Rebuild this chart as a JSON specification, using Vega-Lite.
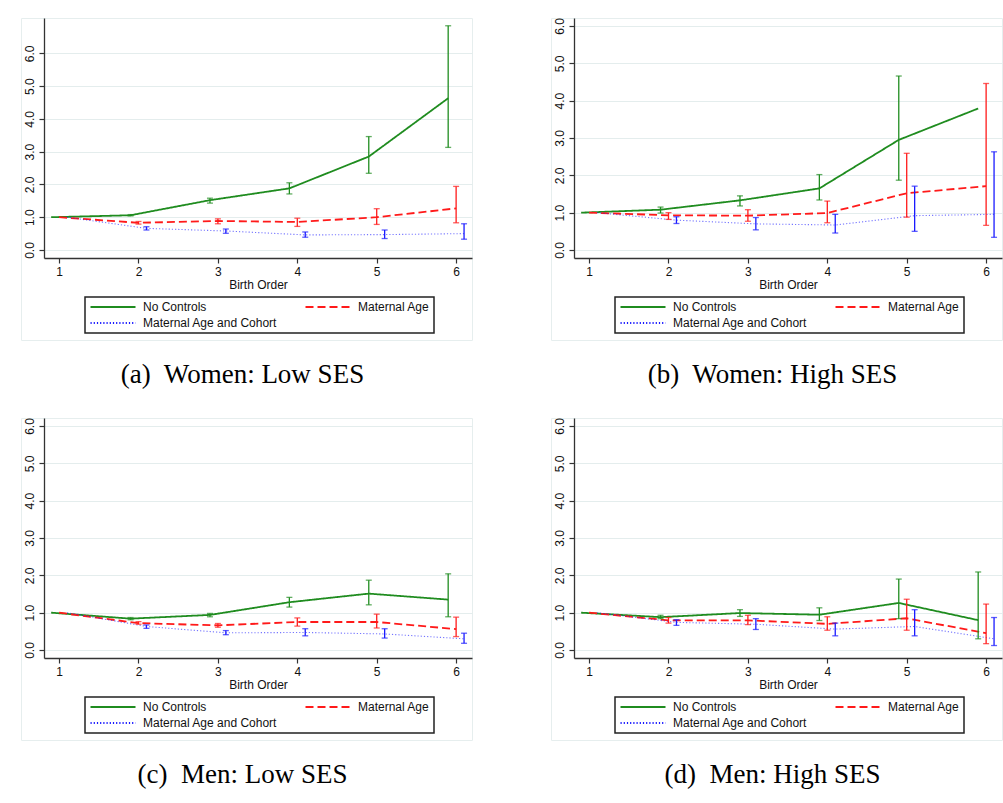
{
  "$schema": "https://vega.github.io/schema/vega-lite/v6.json",
  "padding": {"left": 20, "top": 17, "right": 2, "bottom": 2},
  "background": "white",
  "datasets": {
    "womenLow": [
      {"pos": 0.9, "series": "No Controls", "est": 1.0},
      {"pos": 1.9, "series": "No Controls", "est": 1.06, "lo": 1.04, "hi": 1.08},
      {"pos": 2.9, "series": "No Controls", "est": 1.52, "lo": 1.43, "hi": 1.58},
      {"pos": 3.9, "series": "No Controls", "est": 1.88, "lo": 1.71, "hi": 2.05},
      {"pos": 4.9, "series": "No Controls", "est": 2.85, "lo": 2.34, "hi": 3.46},
      {"pos": 5.9, "series": "No Controls", "est": 4.63, "lo": 3.13, "hi": 6.84},
      {"pos": 1, "series": "Maternal Age", "est": 1.0},
      {"pos": 2, "series": "Maternal Age", "est": 0.83, "lo": 0.79, "hi": 0.87},
      {"pos": 3, "series": "Maternal Age", "est": 0.885, "lo": 0.8, "hi": 0.95},
      {"pos": 4, "series": "Maternal Age", "est": 0.855, "lo": 0.72, "hi": 0.97},
      {"pos": 5, "series": "Maternal Age", "est": 1.0, "lo": 0.78, "hi": 1.26},
      {"pos": 6, "series": "Maternal Age", "est": 1.27, "lo": 0.83, "hi": 1.94},
      {"pos": 1.1, "series": "Maternal Age and Cohort", "est": 1.0},
      {"pos": 2.1, "series": "Maternal Age and Cohort", "est": 0.66, "lo": 0.61, "hi": 0.71},
      {"pos": 3.1, "series": "Maternal Age and Cohort", "est": 0.58, "lo": 0.51, "hi": 0.64},
      {"pos": 4.1, "series": "Maternal Age and Cohort", "est": 0.46, "lo": 0.39, "hi": 0.55},
      {"pos": 5.1, "series": "Maternal Age and Cohort", "est": 0.47, "lo": 0.35, "hi": 0.61},
      {"pos": 6.1, "series": "Maternal Age and Cohort", "est": 0.5, "lo": 0.33, "hi": 0.8}
    ],
    "womenHigh": [
      {"pos": 0.9, "series": "No Controls", "est": 1.0},
      {"pos": 1.9, "series": "No Controls", "est": 1.08, "lo": 0.99, "hi": 1.15},
      {"pos": 2.9, "series": "No Controls", "est": 1.33, "lo": 1.18, "hi": 1.45},
      {"pos": 3.9, "series": "No Controls", "est": 1.65, "lo": 1.34, "hi": 2.02},
      {"pos": 4.9, "series": "No Controls", "est": 2.95, "lo": 1.87, "hi": 4.66},
      {"pos": 5.9, "series": "No Controls", "est": 3.79},
      {"pos": 1, "series": "Maternal Age", "est": 1.0},
      {"pos": 2, "series": "Maternal Age", "est": 0.93, "lo": 0.82, "hi": 1.0},
      {"pos": 3, "series": "Maternal Age", "est": 0.92, "lo": 0.77, "hi": 1.08},
      {"pos": 4, "series": "Maternal Age", "est": 0.99, "lo": 0.73, "hi": 1.31},
      {"pos": 5, "series": "Maternal Age", "est": 1.52, "lo": 0.88, "hi": 2.59},
      {"pos": 6, "series": "Maternal Age", "est": 1.71, "lo": 0.66, "hi": 4.46},
      {"pos": 1.1, "series": "Maternal Age and Cohort", "est": 1.0},
      {"pos": 2.1, "series": "Maternal Age and Cohort", "est": 0.8, "lo": 0.71, "hi": 0.89},
      {"pos": 3.1, "series": "Maternal Age and Cohort", "est": 0.7, "lo": 0.54, "hi": 0.87},
      {"pos": 4.1, "series": "Maternal Age and Cohort", "est": 0.67, "lo": 0.455, "hi": 0.955},
      {"pos": 5.1, "series": "Maternal Age and Cohort", "est": 0.92, "lo": 0.5, "hi": 1.71},
      {"pos": 6.1, "series": "Maternal Age and Cohort", "est": 0.955, "lo": 0.34, "hi": 2.63}
    ],
    "menLow": [
      {"pos": 0.9, "series": "No Controls", "est": 1.0},
      {"pos": 1.9, "series": "No Controls", "est": 0.84, "lo": 0.81, "hi": 0.87},
      {"pos": 2.9, "series": "No Controls", "est": 0.94, "lo": 0.89, "hi": 0.98},
      {"pos": 3.9, "series": "No Controls", "est": 1.28, "lo": 1.15, "hi": 1.41},
      {"pos": 4.9, "series": "No Controls", "est": 1.51, "lo": 1.21, "hi": 1.87},
      {"pos": 5.9, "series": "No Controls", "est": 1.35, "lo": 0.89, "hi": 2.04},
      {"pos": 1, "series": "Maternal Age", "est": 1.0},
      {"pos": 2, "series": "Maternal Age", "est": 0.72, "lo": 0.69, "hi": 0.76},
      {"pos": 3, "series": "Maternal Age", "est": 0.66, "lo": 0.61, "hi": 0.71},
      {"pos": 4, "series": "Maternal Age", "est": 0.75, "lo": 0.64, "hi": 0.86},
      {"pos": 5, "series": "Maternal Age", "est": 0.75, "lo": 0.59, "hi": 0.96},
      {"pos": 6, "series": "Maternal Age", "est": 0.56, "lo": 0.36, "hi": 0.88},
      {"pos": 1.1, "series": "Maternal Age and Cohort", "est": 1.0},
      {"pos": 2.1, "series": "Maternal Age and Cohort", "est": 0.63, "lo": 0.58, "hi": 0.67},
      {"pos": 3.1, "series": "Maternal Age and Cohort", "est": 0.46, "lo": 0.41, "hi": 0.52},
      {"pos": 4.1, "series": "Maternal Age and Cohort", "est": 0.47, "lo": 0.38, "hi": 0.57},
      {"pos": 5.1, "series": "Maternal Age and Cohort", "est": 0.43, "lo": 0.32, "hi": 0.57},
      {"pos": 6.1, "series": "Maternal Age and Cohort", "est": 0.3, "lo": 0.18, "hi": 0.45}
    ],
    "menHigh": [
      {"pos": 0.9, "series": "No Controls", "est": 1.0},
      {"pos": 1.9, "series": "No Controls", "est": 0.88, "lo": 0.84, "hi": 0.93},
      {"pos": 2.9, "series": "No Controls", "est": 0.99, "lo": 0.9, "hi": 1.08},
      {"pos": 3.9, "series": "No Controls", "est": 0.945, "lo": 0.79, "hi": 1.13},
      {"pos": 4.9, "series": "No Controls", "est": 1.26, "lo": 0.84, "hi": 1.9},
      {"pos": 5.9, "series": "No Controls", "est": 0.8, "lo": 0.3, "hi": 2.09},
      {"pos": 1, "series": "Maternal Age", "est": 1.0},
      {"pos": 2, "series": "Maternal Age", "est": 0.795, "lo": 0.72, "hi": 0.87},
      {"pos": 3, "series": "Maternal Age", "est": 0.795, "lo": 0.68, "hi": 0.93},
      {"pos": 4, "series": "Maternal Age", "est": 0.7, "lo": 0.53, "hi": 0.89},
      {"pos": 5, "series": "Maternal Age", "est": 0.85, "lo": 0.53, "hi": 1.36},
      {"pos": 6, "series": "Maternal Age", "est": 0.45, "lo": 0.17, "hi": 1.23},
      {"pos": 1.1, "series": "Maternal Age and Cohort", "est": 1.0},
      {"pos": 2.1, "series": "Maternal Age and Cohort", "est": 0.74, "lo": 0.66, "hi": 0.81},
      {"pos": 3.1, "series": "Maternal Age and Cohort", "est": 0.69, "lo": 0.55, "hi": 0.84},
      {"pos": 4.1, "series": "Maternal Age and Cohort", "est": 0.56, "lo": 0.38, "hi": 0.72},
      {"pos": 5.1, "series": "Maternal Age and Cohort", "est": 0.63, "lo": 0.38, "hi": 1.08},
      {"pos": 6.1, "series": "Maternal Age and Cohort", "est": 0.3, "lo": 0.12, "hi": 0.87}
    ]
  },
  "columns": 2,
  "spacing": {"column": 77, "row": 28},
  "resolve": {
    "scale": {"x": "independent", "y": "independent", "color": "independent", "strokeDash": "independent"},
    "legend": {"color": "independent", "strokeDash": "independent"},
    "axis": {"x": "independent", "y": "independent"}
  },
  "concat": [
    {
      "data": {"name": "womenLow"},
      "width": 451, "height": 322,
      "title": {"text": "(a)\u00a0 Women: Low SES"},
      "layer": [
        {
          "transform": [{"filter": "datum.series !== 'Maternal Age and Cohort'"}],
          "mark": {"type": "line", "strokeWidth": 1.8, "strokeCap": "butt"},
          "encoding": {
            "x": {"field": "pos", "type": "quantitative",
                  "scale": {"domain": [0.81, 6.2], "range": [23, 451], "nice": false, "zero": false},
                  "axis": {"values": [1, 2, 3, 4, 5, 6], "format": "d", "title": "Birth Order", "offset": -82, "grid": false}},
            "y": {"field": "est", "type": "quantitative",
                  "scale": {"domain": [-0.244, 7.077], "range": [240, 0], "nice": false, "zero": false},
                  "axis": {"values": [0, 1, 2, 3, 4, 5, 6], "format": ".1f", "title": null, "offset": -23, "grid": true, "labelAngle": -90}},
            "color": {"field": "series", "type": "nominal",
                      "scale": {"domain": ["No Controls", "Maternal Age", "Maternal Age and Cohort"], "range": ["#1f8c1f", "#ff1a1a", "#1a1aff"]},
                      "legend": {"legendX": 64, "legendY": 279}},
            "strokeDash": {"field": "series", "type": "nominal",
                           "scale": {"domain": ["No Controls", "Maternal Age", "Maternal Age and Cohort"], "range": [[1, 0], [8, 4], [1.2, 2]]},
                           "legend": {"legendX": 64, "legendY": 279}}
          }
        },
        {
          "transform": [{"filter": "datum.series === 'Maternal Age and Cohort'"}],
          "mark": {"type": "line", "strokeWidth": 1.1, "opacity": 0.6, "strokeCap": "butt"},
          "encoding": {
            "x": {"field": "pos", "type": "quantitative"},
            "y": {"field": "est", "type": "quantitative"},
            "color": {"field": "series", "type": "nominal", "legend": null},
            "strokeDash": {"field": "series", "type": "nominal", "legend": null}
          }
        },
        {
          "transform": [{"filter": "isValid(datum.lo)"}],
          "mark": {"type": "errorbar", "ticks": true, "size": 6, "thickness": 1.3},
          "encoding": {
            "x": {"field": "pos", "type": "quantitative"},
            "y": {"field": "lo", "type": "quantitative"},
            "y2": {"field": "hi"},
            "color": {"field": "series", "type": "nominal", "legend": null}
          }
        }
      ]
    },
    {
      "data": {"name": "womenHigh"},
      "width": 451, "height": 322,
      "title": {"text": "(b)\u00a0 Women: High SES"},
      "layer": [
        {
          "transform": [{"filter": "datum.series !== 'Maternal Age and Cohort'"}],
          "mark": {"type": "line", "strokeWidth": 1.8, "strokeCap": "butt"},
          "encoding": {
            "x": {"field": "pos", "type": "quantitative",
                  "scale": {"domain": [0.81, 6.2], "range": [23, 451], "nice": false, "zero": false},
                  "axis": {"values": [1, 2, 3, 4, 5, 6], "format": "d", "title": "Birth Order", "offset": -82, "grid": false}},
            "y": {"field": "est", "type": "quantitative",
                  "scale": {"domain": [-0.214, 6.214], "range": [240, 0], "nice": false, "zero": false},
                  "axis": {"values": [0, 1, 2, 3, 4, 5, 6], "format": ".1f", "title": null, "offset": -23, "grid": true, "labelAngle": -90}},
            "color": {"field": "series", "type": "nominal",
                      "scale": {"domain": ["No Controls", "Maternal Age", "Maternal Age and Cohort"], "range": ["#1f8c1f", "#ff1a1a", "#1a1aff"]},
                      "legend": {"legendX": 64, "legendY": 279}},
            "strokeDash": {"field": "series", "type": "nominal",
                           "scale": {"domain": ["No Controls", "Maternal Age", "Maternal Age and Cohort"], "range": [[1, 0], [8, 4], [1.2, 2]]},
                           "legend": {"legendX": 64, "legendY": 279}}
          }
        },
        {
          "transform": [{"filter": "datum.series === 'Maternal Age and Cohort'"}],
          "mark": {"type": "line", "strokeWidth": 1.1, "opacity": 0.6, "strokeCap": "butt"},
          "encoding": {
            "x": {"field": "pos", "type": "quantitative"},
            "y": {"field": "est", "type": "quantitative"},
            "color": {"field": "series", "type": "nominal", "legend": null},
            "strokeDash": {"field": "series", "type": "nominal", "legend": null}
          }
        },
        {
          "transform": [{"filter": "isValid(datum.lo)"}],
          "mark": {"type": "errorbar", "ticks": true, "size": 6, "thickness": 1.3},
          "encoding": {
            "x": {"field": "pos", "type": "quantitative"},
            "y": {"field": "lo", "type": "quantitative"},
            "y2": {"field": "hi"},
            "color": {"field": "series", "type": "nominal", "legend": null}
          }
        }
      ]
    },
    {
      "data": {"name": "menLow"},
      "width": 451, "height": 322,
      "title": {"text": "(c)\u00a0 Men: Low SES"},
      "layer": [
        {
          "transform": [{"filter": "datum.series !== 'Maternal Age and Cohort'"}],
          "mark": {"type": "line", "strokeWidth": 1.8, "strokeCap": "butt"},
          "encoding": {
            "x": {"field": "pos", "type": "quantitative",
                  "scale": {"domain": [0.81, 6.2], "range": [23, 451], "nice": false, "zero": false},
                  "axis": {"values": [1, 2, 3, 4, 5, 6], "format": "d", "title": "Birth Order", "offset": -82, "grid": false}},
            "y": {"field": "est", "type": "quantitative",
                  "scale": {"domain": [-0.214, 6.214], "range": [240, 0], "nice": false, "zero": false},
                  "axis": {"values": [0, 1, 2, 3, 4, 5, 6], "format": ".1f", "title": null, "offset": -23, "grid": true, "labelAngle": -90}},
            "color": {"field": "series", "type": "nominal",
                      "scale": {"domain": ["No Controls", "Maternal Age", "Maternal Age and Cohort"], "range": ["#1f8c1f", "#ff1a1a", "#1a1aff"]},
                      "legend": {"legendX": 64, "legendY": 279}},
            "strokeDash": {"field": "series", "type": "nominal",
                           "scale": {"domain": ["No Controls", "Maternal Age", "Maternal Age and Cohort"], "range": [[1, 0], [8, 4], [1.2, 2]]},
                           "legend": {"legendX": 64, "legendY": 279}}
          }
        },
        {
          "transform": [{"filter": "datum.series === 'Maternal Age and Cohort'"}],
          "mark": {"type": "line", "strokeWidth": 1.1, "opacity": 0.6, "strokeCap": "butt"},
          "encoding": {
            "x": {"field": "pos", "type": "quantitative"},
            "y": {"field": "est", "type": "quantitative"},
            "color": {"field": "series", "type": "nominal", "legend": null},
            "strokeDash": {"field": "series", "type": "nominal", "legend": null}
          }
        },
        {
          "transform": [{"filter": "isValid(datum.lo)"}],
          "mark": {"type": "errorbar", "ticks": true, "size": 6, "thickness": 1.3},
          "encoding": {
            "x": {"field": "pos", "type": "quantitative"},
            "y": {"field": "lo", "type": "quantitative"},
            "y2": {"field": "hi"},
            "color": {"field": "series", "type": "nominal", "legend": null}
          }
        }
      ]
    },
    {
      "data": {"name": "menHigh"},
      "width": 451, "height": 322,
      "title": {"text": "(d)\u00a0 Men: High SES"},
      "layer": [
        {
          "transform": [{"filter": "datum.series !== 'Maternal Age and Cohort'"}],
          "mark": {"type": "line", "strokeWidth": 1.8, "strokeCap": "butt"},
          "encoding": {
            "x": {"field": "pos", "type": "quantitative",
                  "scale": {"domain": [0.81, 6.2], "range": [23, 451], "nice": false, "zero": false},
                  "axis": {"values": [1, 2, 3, 4, 5, 6], "format": "d", "title": "Birth Order", "offset": -82, "grid": false}},
            "y": {"field": "est", "type": "quantitative",
                  "scale": {"domain": [-0.214, 6.214], "range": [240, 0], "nice": false, "zero": false},
                  "axis": {"values": [0, 1, 2, 3, 4, 5, 6], "format": ".1f", "title": null, "offset": -23, "grid": true, "labelAngle": -90}},
            "color": {"field": "series", "type": "nominal",
                      "scale": {"domain": ["No Controls", "Maternal Age", "Maternal Age and Cohort"], "range": ["#1f8c1f", "#ff1a1a", "#1a1aff"]},
                      "legend": {"legendX": 64, "legendY": 279}},
            "strokeDash": {"field": "series", "type": "nominal",
                           "scale": {"domain": ["No Controls", "Maternal Age", "Maternal Age and Cohort"], "range": [[1, 0], [8, 4], [1.2, 2]]},
                           "legend": {"legendX": 64, "legendY": 279}}
          }
        },
        {
          "transform": [{"filter": "datum.series === 'Maternal Age and Cohort'"}],
          "mark": {"type": "line", "strokeWidth": 1.1, "opacity": 0.6, "strokeCap": "butt"},
          "encoding": {
            "x": {"field": "pos", "type": "quantitative"},
            "y": {"field": "est", "type": "quantitative"},
            "color": {"field": "series", "type": "nominal", "legend": null},
            "strokeDash": {"field": "series", "type": "nominal", "legend": null}
          }
        },
        {
          "transform": [{"filter": "isValid(datum.lo)"}],
          "mark": {"type": "errorbar", "ticks": true, "size": 6, "thickness": 1.3},
          "encoding": {
            "x": {"field": "pos", "type": "quantitative"},
            "y": {"field": "lo", "type": "quantitative"},
            "y2": {"field": "hi"},
            "color": {"field": "series", "type": "nominal", "legend": null}
          }
        }
      ]
    }
  ],
  "config": {
    "view": {"stroke": "#e6eeee", "strokeWidth": 1},
    "title": {"orient": "bottom", "anchor": "middle", "frame": "group", "font": "Liberation Serif", "fontSize": 27, "fontWeight": "normal", "color": "black", "offset": 22, "dx": -4},
    "axis": {
      "domainColor": "#333333", "domainWidth": 1.3, "tickColor": "#333333", "tickWidth": 1.2, "tickSize": 5,
      "labelFont": "Liberation Sans", "labelFontSize": 12, "labelColor": "#111111", "labelPadding": 3,
      "titleFont": "Liberation Sans", "titleFontSize": 12, "titleFontWeight": "normal", "titleColor": "#111111", "titlePadding": 2,
      "gridColor": "#e4eded", "gridWidth": 1
    },
    "legend": {
      "orient": "none", "title": null, "columns": 2, "direction": "horizontal",
      "symbolType": "M-1,0H9", "symbolSize": 81, "symbolStrokeWidth": 1.8,
      "labelOffset": 42, "labelFont": "Liberation Sans", "labelFontSize": 12, "labelColor": "#111111", "labelLimit": 300,
      "strokeColor": "#222222", "strokeWidth": 1.5, "padding": 4, "columnPadding": 23, "rowPadding": 4
    }
  }
}
